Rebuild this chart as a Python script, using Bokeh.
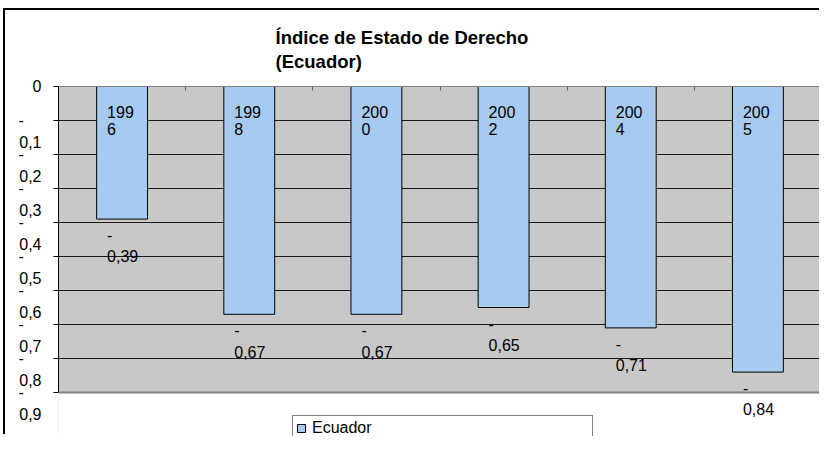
from bokeh.plotting import figure
from bokeh.models import (Range1d, FixedTicker, ColumnDataSource, LabelSet,
                          Legend, LegendItem, Title, Span)
from bokeh.core.properties import value
from bokeh.embed import file_html
from bokeh.resources import INLINE

# ---- data ----
categories = ["1996", "1998", "2000", "2002", "2004", "2005"]
values = [-0.39, -0.67, -0.67, -0.65, -0.71, -0.84]
series_name = "Ecuador"
title_text = "Índice de Estado de Derecho\n(Ecuador)"
y_ticks = [0, -0.1, -0.2, -0.3, -0.4, -0.5, -0.6, -0.7, -0.8, -0.9]
y_tick_labels = ["0", "-0,1", "-0,2", "-0,3", "-0,4", "-0,5",
                 "-0,6", "-0,7", "-0,8", "-0,9"]

# labels wrapped the way the chart shows them
NB = "\u00a0"
def wrap_tick(t):
    if t.startswith("-"):
        return "\n-" + NB * 4 + "\n" + t[1:]
    return t

cat_labels = [c[:3] + "\n" + c[3:] for c in categories]
value_labels = ["-\n" + ("%.2f" % abs(v)).replace(".", ",") for v in values]
xs = [i + 0.5 for i in range(len(categories))]

src = ColumnDataSource(dict(x=xs, v=values, cat=cat_labels, lab=value_labels,
                            zero=[0] * len(values)))

FONT = "Liberation Sans"
GRAY_AREA = "#C8C8C8"
Y_VIEW_MIN = -1.0294   # view extends below the plot area for labels / legend

p = figure(width=816, height=426,
           x_range=Range1d(0, len(categories)), y_range=Range1d(Y_VIEW_MIN, 0),
           x_axis_location="above", output_backend="svg", toolbar_location=None,
           min_border_left=53, min_border_right=0, min_border_top=76,
           min_border_bottom=0)
p.styles = {"margin-left": "3px", "margin-top": "8px",
            "border-left": "2px solid black", "border-top": "2px solid black"}

p.background_fill_color = GRAY_AREA
p.border_fill_color = "white"
p.outline_line_color = None

# white area below the plot area (the frame is extended for outside labels)
p.quad(left=-1, right=len(categories) + 1, top=y_ticks[-1], bottom=Y_VIEW_MIN - 1,
       fill_color="white", line_color=None)

# y axis
p.yaxis.ticker = FixedTicker(ticks=y_ticks)
p.yaxis.bounds = (y_ticks[-1], 0)
p.yaxis.major_label_overrides = {t: wrap_tick(l) for t, l in zip(y_ticks, y_tick_labels)}
p.yaxis.axis_line_color = "black"
p.yaxis.major_tick_line_color = "black"
p.yaxis.major_tick_out = 5
p.yaxis.major_tick_in = 0
p.yaxis.minor_tick_line_color = None
p.yaxis.major_label_text_font = FONT
p.yaxis.major_label_text_font_size = "16px"
p.yaxis.major_label_text_color = "black"
p.yaxis.major_label_standoff = 12
p.yaxis.major_label_text_line_height = 1.3

# top axis: only category boundary ticks
p.xaxis.ticker = FixedTicker(ticks=list(range(1, len(categories))))
p.xaxis.major_label_overrides = {i: "" for i in range(1, len(categories))}
p.xaxis.major_label_text_font_size = "0px"
p.xaxis.major_label_standoff = 0
p.xaxis.axis_line_color = "#808080"
p.xaxis.major_tick_line_color = "#606060"
p.xaxis.major_tick_in = 4
p.xaxis.major_tick_out = 0
p.xaxis.minor_tick_line_color = None

p.ygrid.ticker = FixedTicker(ticks=y_ticks)
p.ygrid.grid_line_color = "#1a1a1a"
p.xgrid.grid_line_color = None

# plot-area border (bottom and right, gray)
p.add_layout(Span(location=y_ticks[-1], dimension="width",
                  line_color="#808080", line_width=2))
p.segment(x0=[len(categories)], x1=[len(categories)], y0=[0], y1=[y_ticks[-1]],
          line_color="#808080", line_width=3)

bars = p.vbar(x="x", top="zero", bottom="v", width=0.4, source=src,
              fill_color="#A6CAF0", line_color="black", line_width=1)

cat_set = LabelSet(x="x", y="zero", text="cat", source=src, x_offset=-15,
                   y_offset=-17, text_font=value(FONT), text_font_size="16px",
                   text_color="black", text_align="left", text_baseline="top",
                   text_line_height=1.05)
p.add_layout(cat_set)

val_set = LabelSet(x="x", y="v", text="lab", source=src, x_offset=-15,
                   y_offset=-8, text_font=value(FONT), text_font_size="16px",
                   text_color="black", text_align="left", text_baseline="top",
                   text_line_height=1.25)
p.add_layout(val_set)

legend = Legend(items=[LegendItem(label=series_name, renderers=[bars])],
                location=(234, -5), orientation="vertical",
                border_line_color="black", border_line_width=1,
                background_fill_color="white", background_fill_alpha=1,
                padding=3, spacing=0, margin=0,
                label_text_font=FONT, label_text_font_size="16px",
                label_text_color="black",
                glyph_width=10, glyph_height=10, label_standoff=6,
                label_width=277, label_height=18)
p.add_layout(legend)

p.title = Title(text=title_text, align="left", offset=217,
                text_font=FONT, text_font_size="18.5px", text_font_style="bold",
                text_color="black", text_line_height=1.15, standoff=28)

open("out.html", "w").write(file_html(p, INLINE))
